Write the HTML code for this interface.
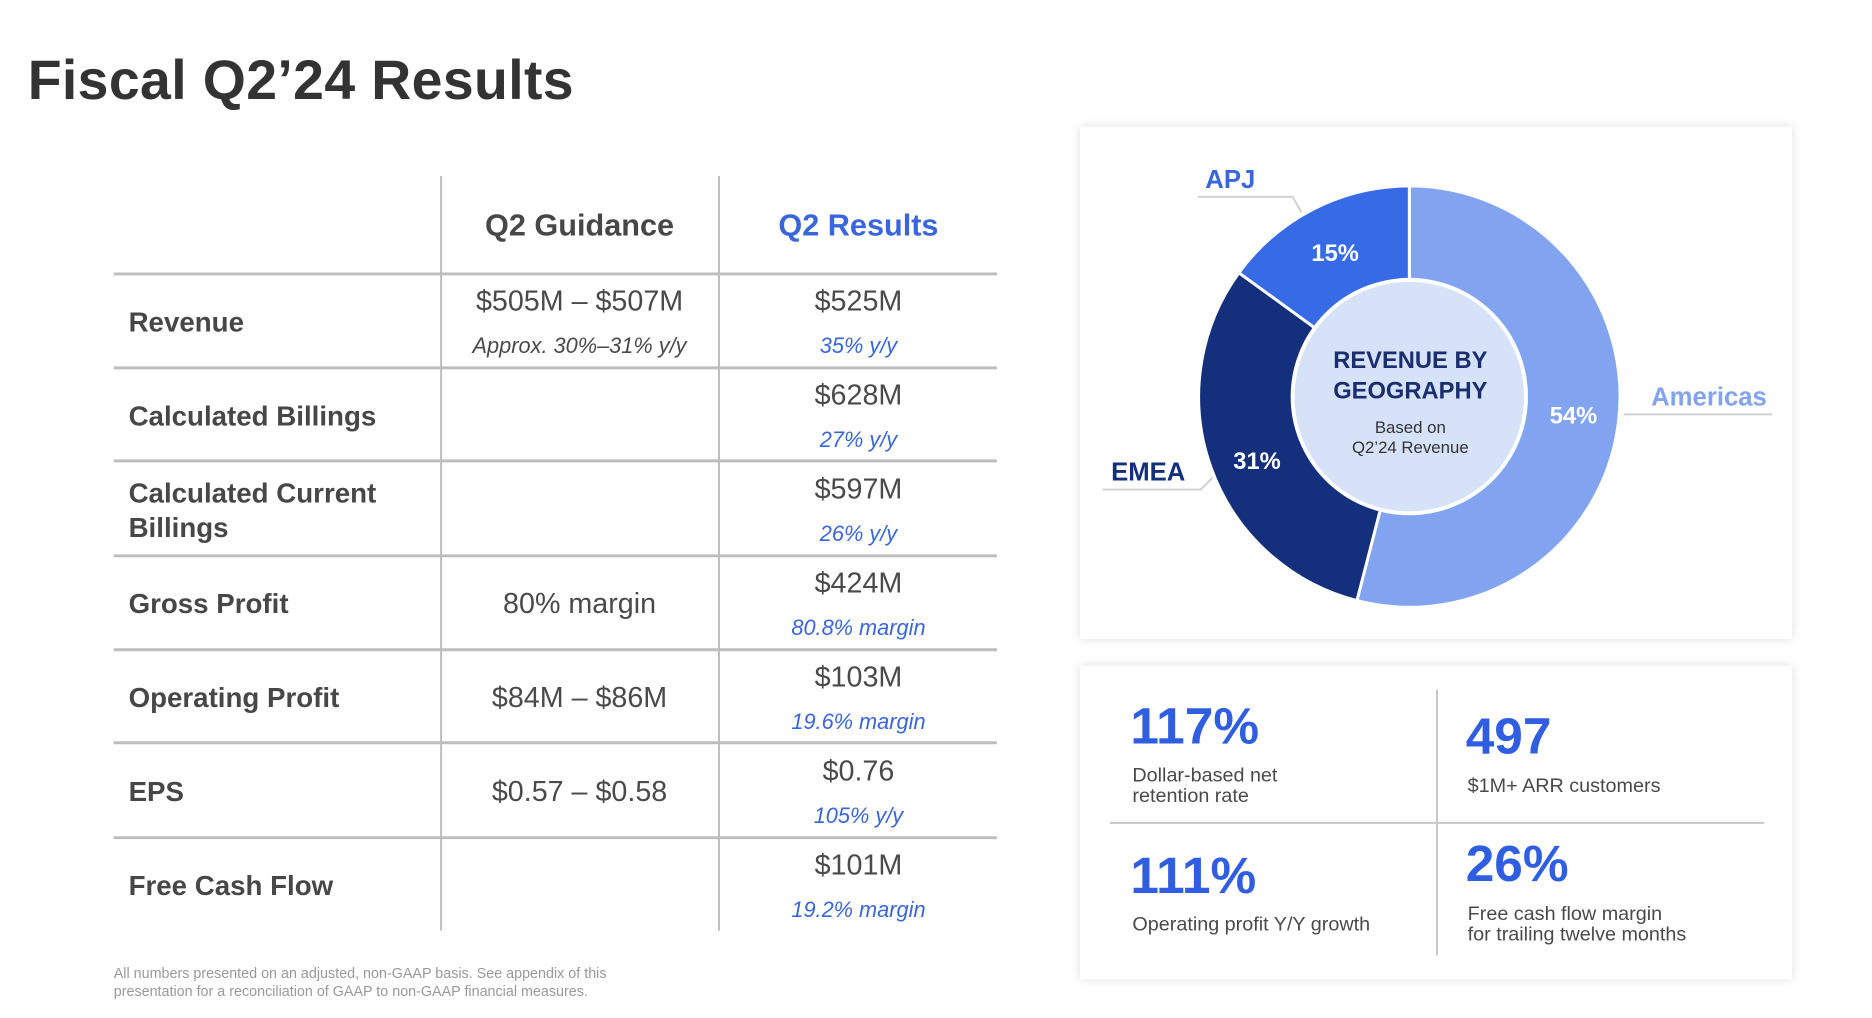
<!DOCTYPE html>
<html><head><meta charset="utf-8"><style>
html,body{margin:0;padding:0;background:#fff;}
svg{display:block;font-family:"Liberation Sans",sans-serif;}
.lab{font-size:28px;font-weight:bold;fill:#474747;}
.main{font-size:29px;fill:#4a4a4a;text-anchor:middle;}
.sub{font-size:22px;font-style:italic;fill:#3a66db;text-anchor:middle;}
.gsub{font-size:22px;font-style:italic;fill:#4a4a4a;text-anchor:middle;}
.big{font-size:52px;font-weight:bold;fill:#2f5fe0;}
.desc{font-size:20px;fill:#4a4a4a;}
</style></head><body>
<svg width="1872" height="1018" viewBox="0 0 1872 1018">
<g transform="scale(0.989)">
<text x="28" y="100" font-size="56" font-weight="bold" fill="#333" textLength="552">Fiscal Q2’24 Results</text>

<g stroke="#bdbdbd" stroke-width="2">
<line x1="446" y1="178" x2="446" y2="941"/>
<line x1="727" y1="178" x2="727" y2="941"/>
<line x1="115" y1="277" x2="1008" y2="277" stroke-width="3"/>
<line x1="115" y1="372" x2="1008" y2="372" stroke-width="3"/>
<line x1="115" y1="466" x2="1008" y2="466" stroke-width="3"/>
<line x1="115" y1="562" x2="1008" y2="562" stroke-width="3"/>
<line x1="115" y1="657" x2="1008" y2="657" stroke-width="3"/>
<line x1="115" y1="751" x2="1008" y2="751" stroke-width="3"/>
<line x1="115" y1="847" x2="1008" y2="847" stroke-width="3"/>
</g>
<text x="586" y="238" font-size="31" font-weight="bold" fill="#474747" text-anchor="middle">Q2 Guidance</text>
<text x="868" y="238" font-size="31" font-weight="bold" fill="#3a66db" text-anchor="middle">Q2 Results</text>

<text class="lab" x="130" y="335">Revenue</text>
<text class="main" x="586" y="314">$505M – $507M</text>
<text class="gsub" x="586" y="357">Approx. 30%–31% y/y</text>
<text class="main" x="868" y="314">$525M</text>
<text class="sub" x="868" y="357">35% y/y</text>

<text class="lab" x="130" y="430">Calculated Billings</text>
<text class="main" x="868" y="409">$628M</text>
<text class="sub" x="868" y="452">27% y/y</text>

<text class="lab" x="130" y="508">Calculated Current</text>
<text class="lab" x="130" y="543">Billings</text>
<text class="main" x="868" y="504">$597M</text>
<text class="sub" x="868" y="547">26% y/y</text>

<text class="lab" x="130" y="620">Gross Profit</text>
<text class="main" x="586" y="620">80% margin</text>
<text class="main" x="868" y="599">$424M</text>
<text class="sub" x="868" y="642">80.8% margin</text>

<text class="lab" x="130" y="715">Operating Profit</text>
<text class="main" x="586" y="715">$84M – $86M</text>
<text class="main" x="868" y="694">$103M</text>
<text class="sub" x="868" y="737">19.6% margin</text>

<text class="lab" x="130" y="810">EPS</text>
<text class="main" x="586" y="810">$0.57 – $0.58</text>
<text class="main" x="868" y="789">$0.76</text>
<text class="sub" x="868" y="832">105% y/y</text>

<text class="lab" x="130" y="905">Free Cash Flow</text>
<text class="main" x="868" y="884">$101M</text>
<text class="sub" x="868" y="927">19.2% margin</text>

<text x="115" y="989" font-size="14.5" fill="#999">All numbers presented on an adjusted, non-GAAP basis. See appendix of this</text>
<text x="115" y="1007" font-size="14.5" fill="#999">presentation for a reconciliation of GAAP to non-GAAP financial measures.</text>

<rect x="1092" y="128" width="720" height="518" fill="#fff" style="filter:drop-shadow(0 0 5px rgba(0,0,0,0.13))"/>
<path d="M1425,188 A213,213 0 1 1 1372,607.3 L1395.7,515.3 A118,118 0 1 0 1425,283 Z" fill="#82a4f0" stroke="#fff" stroke-width="3"/>
<path d="M1372,607.3 A213,213 0 0 1 1252.7,275.8 L1329.5,331.6 A118,118 0 0 0 1395.7,515.3 Z" fill="#14307d" stroke="#fff" stroke-width="3"/>
<path d="M1252.7,275.8 A213,213 0 0 1 1425,188 L1425,283 A118,118 0 0 0 1329.5,331.6 Z" fill="#376be6" stroke="#fff" stroke-width="3"/>
<circle cx="1425" cy="401" r="118" fill="#d6e2f8" stroke="#fff" stroke-width="4"/>
<text x="1426" y="372" font-size="24" font-weight="bold" fill="#1a2e6e" text-anchor="middle">REVENUE BY</text>
<text x="1426" y="403" font-size="24" font-weight="bold" fill="#1a2e6e" text-anchor="middle">GEOGRAPHY</text>
<text x="1426" y="438" font-size="17" fill="#333" text-anchor="middle">Based on</text>
<text x="1426" y="458" font-size="17" fill="#333" text-anchor="middle">Q2’24 Revenue</text>
<text x="1350" y="264" font-size="24" font-weight="bold" fill="#fff" text-anchor="middle">15%</text>
<text x="1591" y="428" font-size="24" font-weight="bold" fill="#fff" text-anchor="middle">54%</text>
<text x="1271" y="474" font-size="24" font-weight="bold" fill="#fff" text-anchor="middle">31%</text>
<g stroke="#d0d0d0" stroke-width="2" fill="none">
<polyline points="1211,199 1307,199 1316,215"/>
<polyline points="1642,419 1792,419"/>
<polyline points="1115,495 1214,495 1226,483"/>
</g>
<text x="1244" y="190" font-size="26" font-weight="bold" fill="#3a66db" text-anchor="middle">APJ</text>
<text x="1728" y="410" font-size="26" font-weight="bold" fill="#82a4f0" text-anchor="middle">Americas</text>
<text x="1161" y="486" font-size="26" font-weight="bold" fill="#14307d" text-anchor="middle">EMEA</text>

<rect x="1092" y="673" width="720" height="317" fill="#fff" style="filter:drop-shadow(0 0 5px rgba(0,0,0,0.13))"/>
<line x1="1453" y1="697" x2="1453" y2="966" stroke="#c8c8c8" stroke-width="2"/>
<line x1="1122" y1="832" x2="1784" y2="832" stroke="#c8c8c8" stroke-width="2"/>
<text class="big" x="1143" y="752">117%</text>
<text class="desc" x="1145" y="790">Dollar-based net</text>
<text class="desc" x="1145" y="811">retention rate</text>
<text class="big" x="1482" y="762">497</text>
<text class="desc" x="1484" y="801">$1M+ ARR customers</text>
<text class="big" x="1143" y="903">111%</text>
<text class="desc" x="1145" y="941">Operating profit Y/Y growth</text>
<text class="big" x="1482" y="891">26%</text>
<text class="desc" x="1484" y="930">Free cash flow margin</text>
<text class="desc" x="1484" y="951">for trailing twelve months</text>
</g>
</svg>
</body></html>
